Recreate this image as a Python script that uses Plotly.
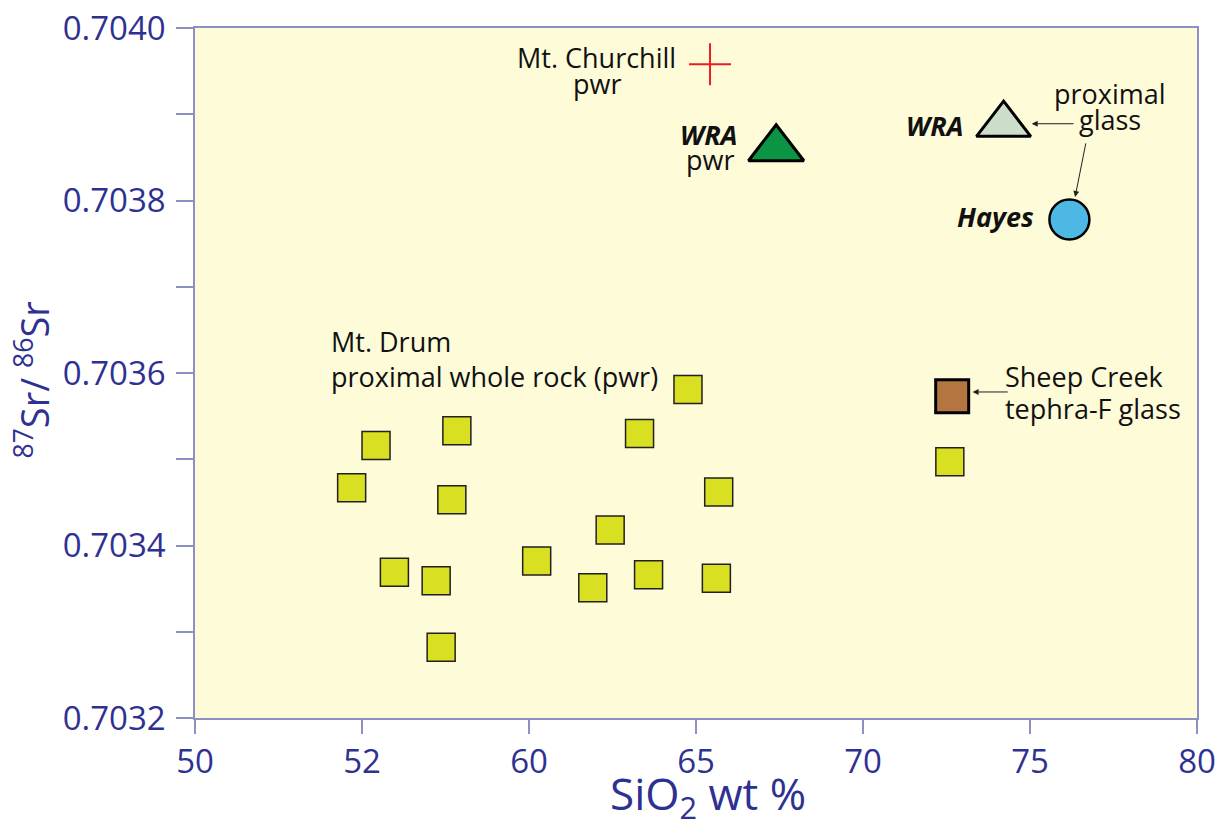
import plotly.graph_objects as go

# Mt. Drum proximal whole-rock (pwr) samples
drum_sio2 = [55.42, 57.84, 54.69, 57.69, 64.76, 63.31, 65.68, 62.43,
             60.23, 55.97, 57.22, 61.91, 63.58, 65.61, 57.37, 72.60]
drum_sr = [0.703516, 0.703533, 0.703467, 0.703453, 0.703581, 0.703530,
           0.703462, 0.703418, 0.703382, 0.703369, 0.703359, 0.703351,
           0.703366, 0.703362, 0.703282, 0.703497]

# Single-point groups
churchill_sio2, churchill_sr = [65.42], [0.703958]
wra_pwr_sio2, wra_pwr_sr = [67.40], [0.703860]
wra_glass_sio2, wra_glass_sr = [74.21], [0.703888]
hayes_sio2, hayes_sr = [76.18], [0.703778]
sheep_sio2, sheep_sr = [72.67], [0.703573]

# Axis ticks
x_tickvals = [50, 55, 60, 65, 70, 75, 80]
x_ticktext = ["50", "52", "60", "65", "70", "75", "80"]
y_tickvals = [0.7032, 0.7034, 0.7036, 0.7038, 0.7040]

AXIS_BLUE = "#2E3192"
AXIS_LINE = "#8C90C4"
FONT = "Open Sans"

fig = go.Figure()

fig.add_trace(go.Scatter(
    x=drum_sio2, y=drum_sr, mode="markers",
    marker=dict(symbol="square", size=28, color="#D9E021",
                line=dict(color="#231F20", width=1.5)),
))
fig.add_trace(go.Scatter(
    x=sheep_sio2, y=sheep_sr, mode="markers",
    marker=dict(symbol="square", size=33, color="#B57540",
                line=dict(color="#000000", width=3)),
))
fig.add_trace(go.Scatter(
    x=churchill_sio2, y=churchill_sr, mode="markers",
    marker=dict(symbol="cross-thin", size=30, color="#ED1C24",
                line=dict(color="#ED1C24", width=2)),
))
fig.add_trace(go.Scatter(
    x=wra_pwr_sio2, y=wra_pwr_sr, mode="markers",
    marker=dict(symbol="triangle-up", size=48, color="#0A9444",
                line=dict(color="#000000", width=3)),
))
fig.add_trace(go.Scatter(
    x=wra_glass_sio2, y=wra_glass_sr, mode="markers",
    marker=dict(symbol="triangle-up", size=47, color="#CCDDC9",
                line=dict(color="#000000", width=3)),
))
fig.add_trace(go.Scatter(
    x=hayes_sio2, y=hayes_sr, mode="markers",
    marker=dict(symbol="circle", size=40, color="#4DB8E4",
                line=dict(color="#000000", width=2.5)),
))

TXT = dict(family=FONT, size=27, color="#111111")


def label(text, x, y, xanchor="center"):
    return dict(text=text, x=x, y=y, xref="x", yref="y", showarrow=False,
                xanchor=xanchor, yanchor="middle", font=TXT)


def arrow(x_head, y_head, x_tail, y_tail):
    return dict(text="", x=x_head, y=y_head, ax=x_tail, ay=y_tail,
                xref="x", yref="y", axref="x", ayref="y", showarrow=True,
                arrowhead=2, arrowsize=1.2, arrowwidth=1, arrowcolor="#231F20")


annotations = [
    label("Mt. Churchill", 62.01, 0.703966),
    label("pwr", 62.04, 0.703936),
    label("<b><i>WRA</i></b>", 65.39, 0.703877),
    label("pwr", 65.42, 0.703847),
    label("<b><i>WRA</i></b>", 72.16, 0.703887),
    label("proximal", 77.40, 0.703924),
    label("glass", 77.40, 0.703894),
    label("<b><i>Hayes</i></b>", 73.97, 0.703781),
    label("Sheep Creek", 74.20, 0.703596, "left"),
    label("tephra-F glass", 74.20, 0.703559, "left"),
    label("Mt. Drum", 54.02, 0.703637, "left"),
    label("proximal whole rock (pwr)", 54.02, 0.703596, "left"),
    arrow(75.05, 0.703889, 76.35, 0.703889),
    arrow(76.35, 0.703804, 76.68, 0.703868),
    arrow(73.28, 0.703578, 74.38, 0.703578),
    # axis titles
    dict(text="<sup>87</sup>Sr/ <sup>86</sup>Sr", x=-0.162, y=0.49,
         xref="paper", yref="paper", showarrow=False, textangle=-90,
         xanchor="center", yanchor="middle",
         font=dict(family=FONT, size=38, color=AXIS_BLUE)),
    dict(text="SiO<sub>2</sub> wt %", x=0.512, y=-0.112,
         xref="paper", yref="paper", showarrow=False,
         xanchor="center", yanchor="middle",
         font=dict(family=FONT, size=44, color=AXIS_BLUE)),
]

fig.update_layout(
    width=1219, height=830,
    margin=dict(l=195, r=22, t=28, b=112, autoexpand=False),
    paper_bgcolor="white",
    plot_bgcolor="#FEFBD8",
    showlegend=False,
    annotations=annotations,
)

fig.update_xaxes(
    range=[50, 80], tickvals=x_tickvals, ticktext=x_ticktext,
    automargin=False,
    showgrid=False, zeroline=False,
    showline=True, linecolor=AXIS_LINE, linewidth=1.5, mirror=True,
    ticks="outside", ticklen=14, tickwidth=1.5, tickcolor=AXIS_LINE,
    tickfont=dict(family=FONT, size=33, color=AXIS_BLUE),
)
fig.update_yaxes(
    range=[0.7032, 0.7040], tickvals=y_tickvals, tickformat=".4f",
    automargin=False,
    showgrid=False, zeroline=False,
    showline=True, linecolor=AXIS_LINE, linewidth=1.5, mirror=True,
    ticks="outside", ticklen=17, tickwidth=1.5, tickcolor=AXIS_LINE,
    ticklabelstandoff=4,
    minor=dict(ticks="outside", ticklen=17, tickwidth=1.5,
               tickcolor=AXIS_LINE, dtick=0.0001, tick0=0.7032, showgrid=False),
    tickfont=dict(family=FONT, size=33, color=AXIS_BLUE),
)

fig.write_html("out.html")
